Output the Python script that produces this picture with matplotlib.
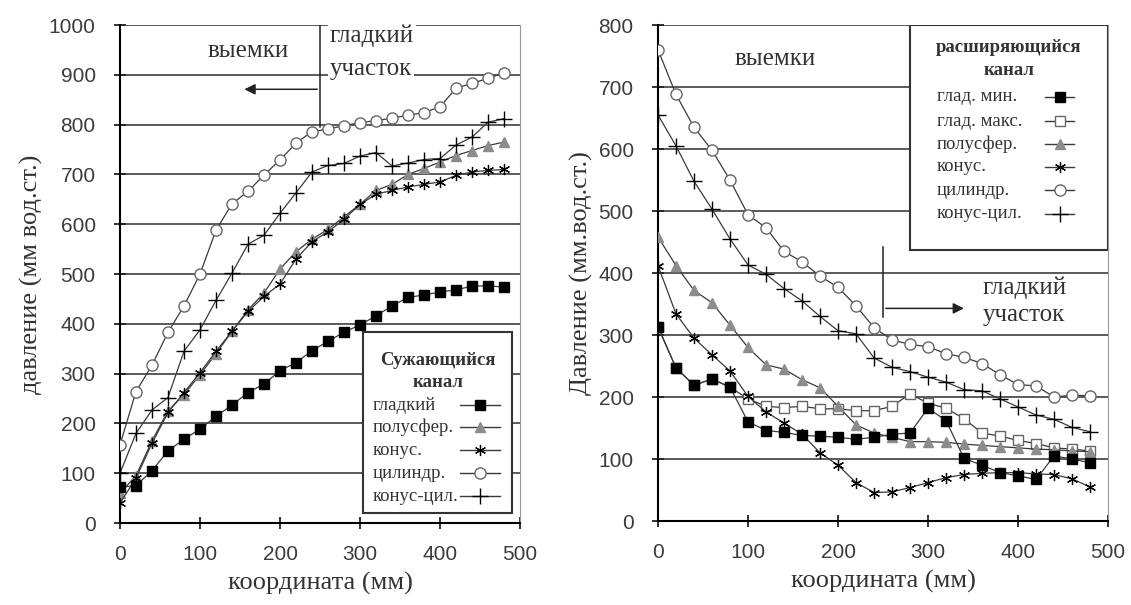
import numpy as np
import matplotlib
matplotlib.use("Agg")
import matplotlib.pyplot as plt
from matplotlib.patches import Rectangle

# координата вдоль канала, мм
x = np.arange(0, 500, 20)

# сужающийся канал
narrow_smooth = [72, 75, 105, 145, 168, 189, 214, 237, 262, 279, 306, 322, 346, 365, 383,
                 398, 416, 436, 453, 458, 464, 468, 476, 476, 474]
narrow_hemi = [60, 95, 165, 225, 258, 298, 340, 385, 428, 462, 510, 545, 570, 590, 615,
               640, 668, 680, 700, 712, 725, 738, 748, 758, 765]
narrow_cone = [40, 90, 160, 222, 262, 302, 345, 385, 425, 455, 480, 530, 565, 585, 610,
               640, 660, 668, 675, 680, 685, 698, 705, 708, 710]
narrow_cyl = [157, 264, 317, 383, 436, 500, 588, 641, 666, 699, 729, 763, 786, 791, 798,
              804, 808, 813, 819, 824, 836, 873, 883, 893, 904]
narrow_conecyl = [100, 180, 227, 252, 345, 388, 447, 502, 560, 578, 622, 663, 705, 718, 722,
                  737, 744, 717, 723, 730, 732, 759, 775, 805, 812]

# расширяющийся канал
wide_min = [313, 247, 219, 229, 216, 160, 146, 143, 138, 137, 135, 132, 135, 140, 142,
            182, 162, 101, 90, 78, 73, 67, 105, 100, 94]
wide_max = [313, 247, 219, 229, 216, 197, 185, 183, 185, 181, 181, 178, 178, 185, 205,
            190, 182, 165, 142, 137, 130, 125, 118, 116, 113]
wide_hemi = [458, 412, 372, 352, 316, 280, 252, 245, 228, 215, 185, 155, 142, 135, 128,
             128, 127, 124, 122, 120, 118, 116, 115, 113, 112]
wide_cone = [412, 334, 295, 268, 242, 201, 176, 158, 140, 110, 90, 62, 46, 47, 54,
             62, 70, 75, 77, 78, 78, 76, 75, 68, 55]
wide_cyl = [760, 688, 635, 598, 550, 494, 473, 435, 418, 395, 377, 347, 312, 292, 285,
            281, 270, 264, 254, 236, 220, 218, 200, 203, 202]
wide_conecyl = [655, 605, 548, 503, 455, 413, 398, 375, 355, 330, 307, 302, 263, 248, 241,
                232, 224, 212, 210, 197, 184, 171, 164, 151, 144]

serif = "Liberation Serif"
sans = "Liberation Sans"
line_c = "#3a3a3a"
text_c = "#333333"

styles = {
    "smooth": dict(marker="s", mfc="black", mec="black", ms=7),
    "smooth_max": dict(marker="s", mfc="white", mec="#666666", ms=7),
    "hemi": dict(marker="^", mfc="#8c8c8c", mec="#8c8c8c", ms=7),
    "cone": dict(marker=(6, 2, 0), mfc="black", mec="black", ms=8, mew=0.9),
    "cyl": dict(marker="o", mfc="white", mec="#666666", ms=8, mew=1.0),
    "conecyl": dict(marker="+", mfc="black", mec="black", ms=11, mew=1.0),
}

fig = plt.figure(figsize=(11.31, 6.05), dpi=100)
ax1 = fig.add_axes([0.1061, 0.1355, 0.3537, 0.8231])
ax2 = fig.add_axes([0.5818, 0.1388, 0.3979, 0.8198])


def setup(ax, ymax, ylabel):
    ax.set_xlim(0, 500)
    ax.set_ylim(0, ymax)
    ax.set_xticks(range(0, 501, 100))
    ax.set_yticks(range(0, ymax + 1, 100))
    ax.yaxis.grid(True, color="#4d4d4d", lw=1.3)
    ax.set_axisbelow(True)
    ax.spines["top"].set_visible(False)
    ax.spines["right"].set_color("#9a9a9a")
    ax.spines["left"].set_linewidth(1.5)
    ax.spines["bottom"].set_linewidth(1.5)
    ax.tick_params(direction="inout", length=9, width=1.3, labelsize=15, colors="#222222")
    ax.tick_params(axis="x", pad=11)
    ax.tick_params(axis="y", pad=13)
    for lab in ax.get_xticklabels() + ax.get_yticklabels():
        lab.set_family(sans)
        lab.set_color("#3c3c3c")
    ax.set_xlabel("координата (мм)", family=serif, fontsize=19, color=text_c, labelpad=6)
    ax.set_ylabel(ylabel, family=serif, fontsize=19, color=text_c, labelpad=4)


def box_legend(ax, box, title, title_y, items, item_y, text_x, handle_x):
    # рамка легенды и подписи в долях осей
    x0, y0, x1, y1 = box
    ax.add_patch(Rectangle((x0, y0), x1 - x0, y1 - y0, transform=ax.transAxes,
                           fc="white", ec="#333333", lw=1.5, zorder=10))
    for line, ty in zip(title, title_y):
        ax.text((x0 + x1) / 2, ty, line, transform=ax.transAxes, family=serif,
                fontsize=13.5, fontweight="bold", ha="center", va="center",
                color=text_c, zorder=11)
    hx0, hx1 = handle_x
    for (label, st), iy in zip(items, item_y):
        ax.text(text_x, iy, label, transform=ax.transAxes, family=serif, fontsize=13.5,
                ha="left", va="center", color=text_c, zorder=11)
        ax.plot([hx0, hx1], [iy, iy], transform=ax.transAxes, color=line_c, lw=1.0,
                zorder=11, clip_on=False)
        ax.plot([(hx0 + hx1) / 2], [iy], transform=ax.transAxes, ls="none", zorder=12,
                clip_on=False, **styles[st])


# --- левый график: сужающийся канал ---
setup(ax1, 1000, "давление (мм вод.ст.)")
ax1.plot(x, narrow_smooth, color=line_c, lw=0.9, zorder=5, **styles["smooth"])
ax1.plot(x, narrow_hemi, color=line_c, lw=0.9, zorder=3, **styles["hemi"])
ax1.plot(x, narrow_cone, color=line_c, lw=0.9, zorder=4, **styles["cone"])
ax1.plot(x, narrow_cyl, color=line_c, lw=0.9, zorder=3, **styles["cyl"])
ax1.plot(x, narrow_conecyl, color=line_c, lw=0.9, zorder=3, **styles["conecyl"])

ax1.plot([250, 250], [795, 1000], color="#222222", lw=1.1, zorder=6)
ax1.annotate("", xy=(152, 871), xytext=(250, 871),
             arrowprops=dict(arrowstyle="-|>", color="#222222", lw=1.1, mutation_scale=16))
ax1.text(160, 947, "выемки", family=serif, fontsize=18, ha="center", va="center", color=text_c)
ax1.text(262, 978, "гладкий", family=serif, fontsize=18, ha="left", va="center", color=text_c,
         bbox=dict(fc="white", ec="none", pad=1.5), zorder=7)
ax1.text(262, 912, "участок", family=serif, fontsize=18, ha="left", va="center", color=text_c,
         bbox=dict(fc="white", ec="none", pad=1.5), zorder=7)

box_legend(ax1, (0.608, 0.02, 0.98, 0.383), ["Сужающийся", "канал"], [0.326, 0.283],
           [("гладкий", "smooth"), ("полусфер.", "hemi"), ("конус.", "cone"),
            ("цилиндр.", "cyl"), ("конус-цил.", "conecyl")],
           [0.237, 0.192, 0.146, 0.100, 0.054], 0.632, (0.85, 0.95))

# --- правый график: расширяющийся канал ---
setup(ax2, 800, "Давление (мм.вод.ст.)")
ax2.plot(x, wide_max, color=line_c, lw=0.9, zorder=3, **styles["smooth_max"])
ax2.plot(x, wide_min, color=line_c, lw=0.9, zorder=5, **styles["smooth"])
ax2.plot(x, wide_hemi, color=line_c, lw=0.9, zorder=3, **styles["hemi"])
ax2.plot(x, wide_cone, color=line_c, lw=0.9, zorder=4, **styles["cone"])
ax2.plot(x, wide_cyl, color=line_c, lw=0.9, zorder=3, **styles["cyl"])
ax2.plot(x, wide_conecyl, color=line_c, lw=0.9, zorder=3, **styles["conecyl"])

ax2.plot([250, 250], [329, 442], color="#222222", lw=1.1, zorder=6)
ax2.annotate("", xy=(343, 343), xytext=(250, 343),
             arrowprops=dict(arrowstyle="-|>", color="#222222", lw=1.1, mutation_scale=16))
ax2.text(130, 745, "выемки", family=serif, fontsize=18, ha="center", va="center", color=text_c)
ax2.text(361, 377, "гладкий", family=serif, fontsize=18, ha="left", va="center", color=text_c,
         bbox=dict(fc="white", ec="none", pad=1.5), zorder=7)
ax2.text(361, 332, "участок", family=serif, fontsize=18, ha="left", va="center", color=text_c,
         bbox=dict(fc="white", ec="none", pad=1.5), zorder=7)

box_legend(ax2, (0.56, 0.546, 1.0, 1.0), ["расширяющийся", "канал"], [0.954, 0.908],
           [("глад. мин.", "smooth"), ("глад. макс.", "smooth_max"), ("полусфер.", "hemi"),
            ("конус.", "cone"), ("цилиндр.", "cyl"), ("конус-цил.", "conecyl")],
           [0.855, 0.806, 0.760, 0.714, 0.667, 0.620], 0.62, (0.86, 0.925))

fig.savefig("out.png", dpi=100)
